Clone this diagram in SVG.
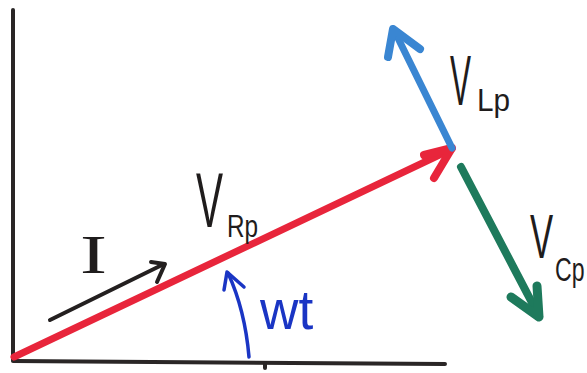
<svg xmlns="http://www.w3.org/2000/svg" width="587" height="373" viewBox="0 0 587 373">
<style>
.ax{stroke:#2a2626;stroke-width:4;fill:none;stroke-linecap:round}
.vec{fill:none;stroke-linecap:round;stroke-linejoin:round}
.lbl{font-family:"Liberation Sans",Arial,sans-serif;fill:#1f1c1c}
</style>
<rect width="587" height="373" fill="#ffffff"/>
<g id="axes">
<path class="ax" d="M13,10 L13,360"/>
<path class="ax" d="M13,361 L445,364"/>
<path class="ax" d="M265,363 L265,368" stroke-width="3"/>
</g>
<g id="connectors">
<g id="vec-VR">
<path class="vec" stroke="#e8253b" stroke-width="7" d="M14,357 L452,149"/>
<path class="vec" stroke="#e8253b" stroke-width="8" d="M424,155 L452,148 L434,178"/>
</g>
<g id="vec-VL">
<path class="vec" stroke="#3a86d2" stroke-width="7" d="M452,148 L394,30"/>
<path class="vec" stroke="#3a86d2" stroke-width="8" d="M388,57 L393,29 L420,49"/>
</g>
<g id="vec-VC">
<path class="vec" stroke="#1e7a5c" stroke-width="8" d="M461,167 L539,316"/>
<path class="vec" stroke="#1e7a5c" stroke-width="9" d="M511,297 L539,317 L537,286"/>
</g>
<g id="vec-I">
<path class="vec" stroke="#242020" stroke-width="4" d="M50,320 L164,264"/>
<path class="vec" stroke="#242020" stroke-width="4" d="M151,262 L165,264 L157,282"/>
</g>
<g id="arc-wt">
<path class="vec" stroke="#1a35c4" stroke-width="3.5" d="M249,357 Q245,310 228,273"/>
<path class="vec" stroke="#1a35c4" stroke-width="3.5" d="M224,290 L227,272 L244,287"/>
</g>
</g>
<g id="label-VRp">
<text class="lbl" font-size="78" transform="translate(196,227) scale(0.52,1)">V</text>
<text class="lbl" font-size="32" transform="translate(227,237) scale(0.76,1)">Rp</text>
</g>
<g id="label-VLp">
<text class="lbl" font-size="70" transform="translate(450,105) scale(0.45,1)">V</text>
<text class="lbl" font-size="32" transform="translate(477,111) scale(0.93,1)">Lp</text>
</g>
<g id="label-VCp">
<text class="lbl" font-size="63" transform="translate(530,258) scale(0.55,1)">V</text>
<text class="lbl" font-size="34" transform="translate(555,281) scale(0.68,1)">Cp</text>
</g>
<g id="label-I">
<text font-family="Liberation Serif,'Times New Roman',serif" font-size="54" fill="#1f1c1c" transform="translate(80,273) scale(1.5,1)">I</text>
</g>
<g id="label-wt">
<text font-family="Liberation Sans,Arial,sans-serif" font-size="56" fill="#1a35c4" transform="translate(260,329) scale(0.95,1)">wt</text>
</g>
</svg>
